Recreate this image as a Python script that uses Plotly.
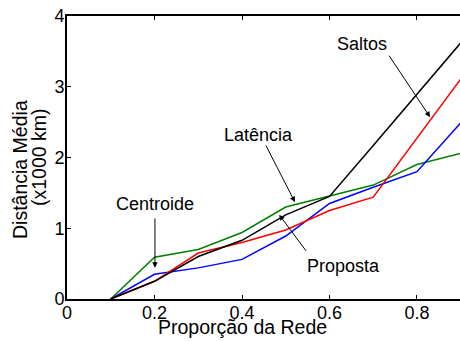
import plotly.graph_objects as go

# Network proportion (x) and mean distance in thousands of km (y)
proporcao = [0.1, 0.2, 0.3, 0.4, 0.5, 0.6, 0.7, 0.8, 0.9]
proposta = [0.0, 0.25, 0.60, 0.83, 1.19, 1.45, 2.17, 2.89, 3.62]
saltos = [0.0, 0.25, 0.65, 0.80, 0.975, 1.25, 1.44, 2.27, 3.11]
centroide = [0.0, 0.35, 0.44, 0.56, 0.89, 1.35, 1.58, 1.80, 2.49]
latencia = [0.0, 0.59, 0.70, 0.94, 1.30, 1.46, 1.61, 1.90, 2.06]

x_ticks = [0, 0.2, 0.4, 0.6, 0.8]
x_tick_text = ["0", "0.2", "0.4", "0.6", "0.8"]
y_ticks = [0, 1, 2, 3, 4]
y_tick_text = ["0", "1", "2", "3", "4"]

FONT = "Liberation Sans, Arial, Helvetica, sans-serif"

series = [
    ("Latência", latencia, "#008000"),
    ("Centroide", centroide, "#0000ff"),
    ("Saltos", saltos, "#ff0000"),
    ("Proposta", proposta, "#000000"),
]

fig = go.Figure()
for name, ys, color in series:
    fig.add_trace(go.Scatter(
        x=proporcao, y=ys, name=name, mode="lines",
        line=dict(color=color, width=1.5), showlegend=False,
        cliponaxis=True,
    ))

# Callout labels (text) and their arrows (tail -> head in data coords)
labels = [
    ("Saltos", 0.674, 3.60),
    ("Latência", 0.437, 2.32),
    ("Centroide", 0.201, 1.34),
    ("Proposta", 0.631, 0.47),
]
for text, lx, ly in labels:
    fig.add_annotation(x=lx, y=ly, xref="x", yref="y", text=text,
                       showarrow=False, font=dict(family=FONT, size=18, color="black"),
                       xanchor="center", yanchor="middle")

arrows = [
    (0.734, 3.46, 0.830, 2.57),
    (0.453, 2.19, 0.521, 1.37),
    (0.201, 1.16, 0.201, 0.44),
    (0.549, 0.66, 0.485, 1.19),
]
for tx, ty, hx, hy in arrows:
    fig.add_annotation(x=hx, y=hy, ax=tx, ay=ty, xref="x", yref="y",
                       axref="x", ayref="y", text="", showarrow=True,
                       arrowhead=2, arrowsize=1.1, arrowwidth=1,
                       arrowcolor="black", standoff=0, startstandoff=0)

# Axis titles
fig.add_annotation(x=0.4, y=0, xref="x", yref="paper", yshift=-28,
                   text="Proporção da Rede", showarrow=False,
                   font=dict(family=FONT, size=19.5, color="black"),
                   xanchor="center", yanchor="middle")
fig.add_annotation(x=20, y=170, xref="paper", yref="paper", text="Distância Média",
                   showarrow=False, textangle=-90,
                   font=dict(family=FONT, size=19.5, color="black"))
fig.add_annotation(x=39, y=157, xref="paper", yref="paper", text="(x1000 km)",
                   showarrow=False, textangle=-90,
                   font=dict(family=FONT, size=19.5, color="black"))

W, H = 460, 341
ml, mt, mb = 67, 16, 42
pw, ph = W - ml, H - mt - mb
# convert the two y-title annotations from pixel to paper coordinates
for ann in fig.layout.annotations[-2:]:
    ann.x = (ann.x - ml) / pw
    ann.y = (H - mb - ann.y) / ph
    ann.xanchor = "center"
    ann.yanchor = "middle"

fig.update_layout(
    width=W, height=H,
    margin=dict(l=ml, r=0, t=mt, b=mb, pad=0),
    paper_bgcolor="white", plot_bgcolor="white",
    font=dict(family=FONT, size=18, color="black"),
    xaxis=dict(range=[0, 0.8983], tickvals=x_ticks, ticktext=x_tick_text,
               showgrid=False, zeroline=False, showline=True, linecolor="black",
               linewidth=2, mirror="ticks", ticks="inside", ticklen=4,
               tickcolor="black", tickwidth=1, ticklabelstandoff=-4,
               tickfont=dict(family=FONT, size=18, color="black")),
    yaxis=dict(range=[0, 4], tickvals=y_ticks, ticktext=y_tick_text,
               showgrid=False, zeroline=False, showline=True, linecolor="black",
               linewidth=2, ticks="inside", ticklen=4, tickcolor="black",
               tickwidth=1, ticklabelstandoff=-3,
               tickfont=dict(family=FONT, size=18, color="black")),
)

fig.write_html("out.html")
